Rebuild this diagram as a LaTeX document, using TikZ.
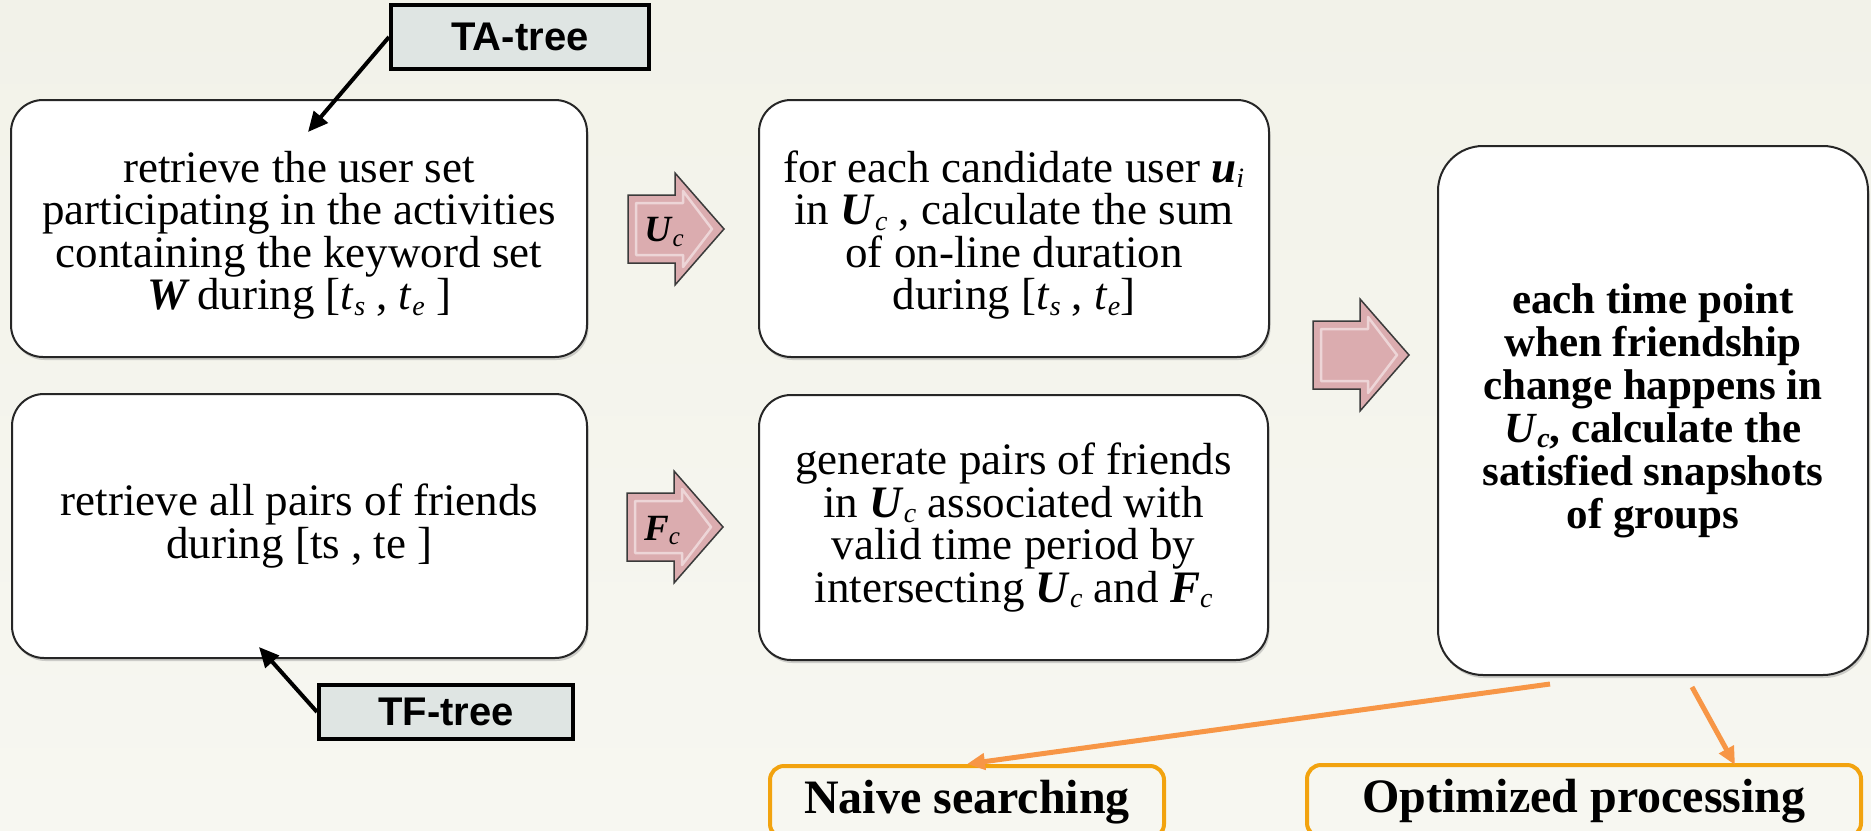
\documentclass[tikz,border=0pt]{standalone}
\usepackage{fontspec}
\setmainfont{Liberation Serif}
\newfontfamily\labelsans{Liberation Sans}
\usetikzlibrary{arrows.meta,shadows}

\definecolor{bgtop}{HTML}{F2F2E9}
\definecolor{bgbot}{HTML}{F7F7F1}
\definecolor{treefill}{HTML}{DFE5E3}
\definecolor{pinkfill}{HTML}{DBACAF}
\definecolor{pinkedge}{HTML}{3A3A3A}
\definecolor{flow}{HTML}{F79646}
\definecolor{goldline}{HTML}{F2A30F}

% bold italic symbol and a lowered italic index that does not change the line height
\newcommand\bitl[1]{\textbf{\textit{#1}}}
\newcommand\lowsub[2][28]{\raisebox{-0.12em}[0pt][0pt]{\fontsize{#1}{#1}\selectfont\textit{#2}}}
% extra head room on a first line, pushes a text block slightly down
\newcommand\headroom{\rule{0pt}{45pt}}

\tikzset{
  card/.style={draw=black!85, line width=2pt, fill=white, rounded corners=32pt,
    drop shadow={opacity=0.35, shadow xshift=1.5pt, shadow yshift=-3pt},
    align=center, inner sep=0pt, font=\fontsize{45}{42.5}\selectfont},
  treebox/.style={draw=black, line width=4pt, fill=treefill, inner sep=0pt,
    font=\labelsans\bfseries\fontsize{40}{40}\selectfont},
  outcome/.style={draw=goldline, line width=4pt, rounded corners=14pt, inner sep=0pt,
    font=\bfseries\fontsize{48}{48}\selectfont},
  blackarrow/.style={line width=4pt, -{Triangle[length=20pt,width=18pt]}},
  flowarrow/.style={draw=flow, line width=5pt, -{Triangle[length=18pt,width=16pt]}},
  arrowlabel/.style={inner sep=0pt, font=\fontsize{37}{37}\selectfont},
  blockarrow/.pic={
    \draw[fill=pinkfill, draw=pinkedge, line width=1.5pt, line join=miter]
      (0,-34) -- (47,-34) -- (47,-56) -- (96,0) -- (47,56) -- (47,34) -- (0,34) -- cycle;
    \draw[white, opacity=.5, line width=2.5pt, line join=round]
      (8,-26) -- (55,-26) -- (55,-38) -- (84,0) -- (55,38) -- (55,26) -- (8,26) -- cycle;
  }
}

\begin{document}
\begin{tikzpicture}[x=1pt,y=-1pt]
  % page and background
  \useasboundingbox (0,0) rectangle (1871,830);
  \shade[top color=bgtop, bottom color=bgbot] (0,0) rectangle (1871,830);

  % processing steps
  \node[card, minimum width=576pt, minimum height=257pt] (b1) at (299,228.5)
    {\headroom retrieve the user set\\participating in the activities\\containing the keyword set\\
     \bitl{W}\,during [\textit{t}\lowsub{s} , \textit{t}\lowsub{e} ]};
  \node[card, minimum width=575pt, minimum height=264pt] (b2) at (299.5,526)
    {retrieve all pairs of friends\\during [ts , te ]};
  \node[card, minimum width=510pt, minimum height=257pt] (b3) at (1014,228.5)
    {\headroom for each candidate user \bitl{u}\lowsub{i}\\in \bitl{U}\lowsub{c} , calculate the sum\\
     of on-line duration\\during [\textit{t}\lowsub{s} , \textit{t}\lowsub{e}]};
  \node[card, minimum width=509pt, minimum height=265pt] (b4) at (1013.5,527.5)
    {generate pairs of friends\\in \bitl{U}\lowsub{c} associated with\\
     valid time period by\\intersecting \bitl{U}\lowsub{c} and \bitl{F}\lowsub{c}};
  \node[card, rounded corners=45pt, minimum width=430pt, minimum height=529pt,
        font=\bfseries\fontsize{43}{43}\selectfont] (b5) at (1653,410.5)
    {each time point\\when friendship\\change happens in\\
     \bitl{U}\lowsub{c}, calculate the\\satisfied snapshots\\of groups};

  % index structures
  \node[treebox, minimum width=258pt, minimum height=64pt] (ta) at (520,37) {TA-tree};
  \node[treebox, minimum width=254pt, minimum height=54pt] (tf) at (446,712) {TF-tree};
  \coordinate (taTip) at (308,132);
  \coordinate (tfTip) at (259,647);
  \draw[blackarrow] (ta.west) -- (taTip);
  \draw[blackarrow] (tf.west) -- (tfTip);

  % block arrows between the steps
  \pic at (628,229) {blockarrow};
  \pic at (627,527) {blockarrow};
  \pic at (1313,355) {blockarrow};
  \node[arrowlabel] (uclab) at (664,230) {\bitl{U}\lowsub[25]{c}};
  \node[arrowlabel] (fclab) at (662,528) {\bitl{F}\lowsub[25]{c}};

  % two ways of evaluating the snapshots
  \node[outcome, minimum width=394pt, minimum height=72pt] (naive) at (967,802) {Naive searching};
  \node[outcome, minimum width=554pt, minimum height=72pt] (opt) at (1584,801) {Optimized processing};
  \coordinate (naiveFrom) at (1550,684);
  \coordinate (optFrom) at (1692,687);
  \coordinate (optTip) at (1735,765);
  \draw[flowarrow] (naiveFrom) -- (naive.north);
  \draw[flowarrow] (optFrom) -- (optTip);
\end{tikzpicture}
\end{document}
